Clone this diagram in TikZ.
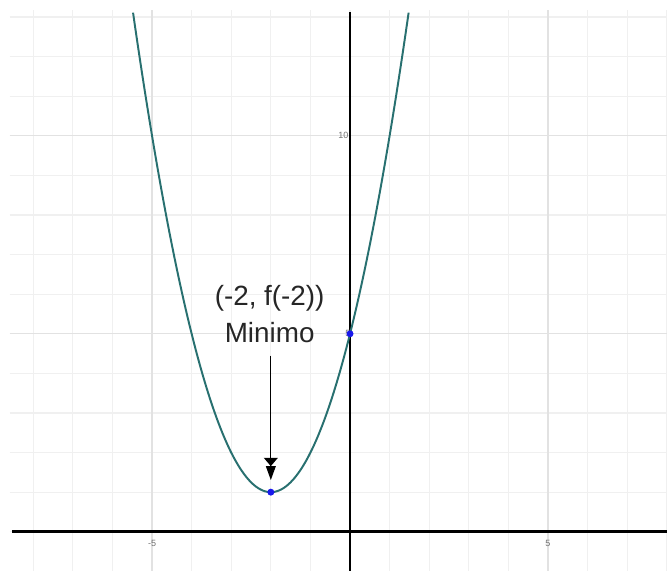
\documentclass[tikz,border=0pt]{standalone}
\usepackage{fontspec}
\setmainfont{Liberation Sans}
\usetikzlibrary{arrows.meta, positioning}
\definecolor{curveteal}{RGB}{40,112,112}
\definecolor{pointblue}{RGB}{25,25,235}
\definecolor{gridminor}{RGB}{240,240,240}
\definecolor{gridmajor}{RGB}{226,226,226}

\begin{document}
\begin{tikzpicture}[
  axisline/.style={draw=black, line width=2pt},
  minorgrid/.style={draw=gridminor, line width=0.8pt},
  majorgrid/.style={draw=gridmajor, line width=0.9pt},
  curve/.style={draw=curveteal, line width=1.4pt},
  dot/.style={circle, fill=pointblue, inner sep=0pt, minimum size=5pt},
  ticklbl/.style={font=\fontsize{6.5}{7}\selectfont, text=black!55, inner sep=1pt},
  lbl/.style={font=\fontsize{20}{26}\selectfont, align=center, text=black!85},
  minarrow/.style={draw=black, line width=0.9pt,
                   -{Triangle[length=6pt,width=10pt]Triangle[length=10pt,width=7pt]}},
]
\useasboundingbox (-8.84,-0.985) rectangle (8.005,13.43);
\fill[white] (-8.84,-0.985) rectangle (8.005,13.43);

%% Grid: every unit, darker every 5
\foreach \x in {-8,...,8}
  \draw[minorgrid] (\x,-0.985) -- (\x,13.18);
\foreach \y in {0,...,13}
  \draw[minorgrid] (-8.59,\y) -- (8.005,\y);
\foreach \x in {-5,5}
  \draw[majorgrid] (\x,-0.985) -- (\x,13.18);
\foreach \y in {5,10}
  \draw[majorgrid] (-8.59,\y) -- (8.005,\y);

%% Axes
\draw[axisline] (-8.54,0) -- (8.005,0);
\draw[axisline] (0,-0.985) -- (0,13.13);

%% Tick labels
\node[ticklbl] (xm5) at (-5,-0.3) {-5};
\node[ticklbl] (xp5) at (5,-0.3) {5};
\node[ticklbl, anchor=east] (y10) at (0,10) {10};
\node[ticklbl, anchor=east] (y5) at (0.05,5) {5};

%% Curve f(x) = (x+2)^2 + 1
\draw[curve, domain=-5.48:1.48, samples=120, smooth] plot (\x, {(\x+2)^2+1});

%% Points
\node[dot] (minpt) at (-2,1) {};
\node[dot] (yint) at (0,5) {};

%% Label and arrow
\node[lbl] (minlbl) at (-2.03,5.5) {(-2, f(-2))\\Minimo};
\draw[minarrow, shorten <=6pt, shorten >=6pt] (minlbl.south -| minpt) -- (minpt.north);

\end{tikzpicture}
\end{document}
